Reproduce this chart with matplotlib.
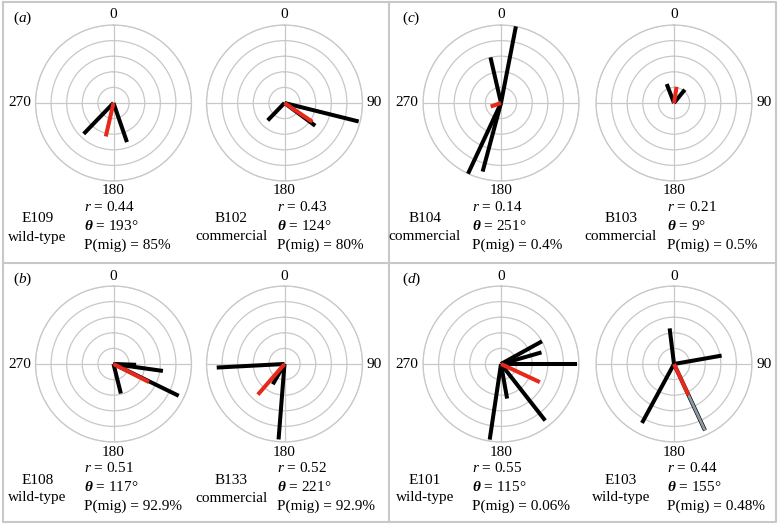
import numpy as np
import matplotlib

matplotlib.use("Agg")
from matplotlib import pyplot as plt

plt.rcParams['font.family'] = ['Liberation Serif', 'DejaVu Serif']
plt.rcParams['mathtext.fontset'] = 'custom'
plt.rcParams['mathtext.rm'] = 'Liberation Serif'
plt.rcParams['mathtext.it'] = 'Liberation Serif:italic'
plt.rcParams['mathtext.bf'] = 'Liberation Serif:italic:bold'

# order: top row left->right, then bottom row left->right
names = ['E109', 'B102', 'B104', 'B103', 'E108', 'B133', 'E101', 'E103']
types = ['wild-type', 'commercial', 'commercial', 'commercial',
         'wild-type', 'commercial', 'wild-type', 'wild-type']
mean_r = [0.44, 0.43, 0.14, 0.21, 0.51, 0.52, 0.55, 0.44]
mean_theta = [193, 124, 251, 9, 117, 221, 115, 155]
p_mig = ['85%', '80%', '0.4%', '0.5%', '92.9%', '92.9%', '0.06%', '0.48%']

track_theta = [
    [224, 161],
    [224, 104, 126.5],
    [11, 347, 205, 195],
    [339, 39],
    [92, 98, 116, 166],
    [267, 184.5, 210],
    [61, 74, 90, 142, 170, 188.5],
    [353, 80, 208.5, 155],
]
track_len = [
    [0.55, 0.53],
    [0.31, 0.98, 0.49],
    [1.0, 0.60, 1.0, 0.91],
    [0.26, 0.22],
    [0.29, 0.64, 0.93, 0.39],
    [0.87, 0.97, 0.30],
    [0.60, 0.54, 0.97, 0.92, 0.45, 0.98],
    [0.46, 0.62, 0.86, 0.94],
]
# track drawn grey beyond the mean vector (E103)
grey_track = [None, None, None, None, None, None, None, 3]

panel_labels = ['a', 'c', 'b', 'd']

W, H = 779, 526
R = 78
cxs = [113.5, 284.5, 501, 674]
cys = [103, 364]

grid_col = '#c8c8c8'
red = '#e6291a'
fs = 11

fig = plt.figure(figsize=(W / 100, H / 100), dpi=100)
bg = fig.add_axes([0, 0, 1, 1])
bg.set_xlim(0, W)
bg.set_ylim(H, 0)
bg.axis('off')

# panel borders
bg.plot([3, 776, 776, 3, 3], [2, 2, 522, 522, 2], color=grid_col, lw=1.5)
bg.plot([389, 389], [2, 522], color=grid_col, lw=1.5)
bg.plot([3, 776], [263, 263], color=grid_col, lw=1.5)

for k, lab in enumerate(panel_labels):
    px = 13 + 389 * (k % 2)
    py = 18 + 261 * (k // 2)
    bg.text(px, py, '(' + '$\\it{' + lab + '}$' + ')', fontsize=fs,
            ha='left', va='center')

for i in range(8):
    cx = cxs[i % 4]
    cy = cys[i // 4]
    left = (i % 2 == 0)

    ax = fig.add_axes([(cx - R) / W, 1 - (cy + R) / H, 2 * R / W, 2 * R / H],
                      projection='polar')
    ax.set_theta_zero_location('N')
    ax.set_theta_direction(-1)
    ax.set_ylim(0, 1)
    ax.set_rgrids([0.2, 0.4, 0.6, 0.8, 1.0], labels=[])
    ax.set_thetagrids([0, 90, 180, 270], labels=[])
    ax.grid(True, color=grid_col, lw=0.9)
    ax.spines['polar'].set_color(grid_col)
    ax.spines['polar'].set_linewidth(0.9)
    ax.tick_params(length=0)

    for th, ln in zip(track_theta[i], track_len[i]):
        t = np.deg2rad(th)
        ax.plot([t, t], [0, ln], color='black', lw=2.9,
                solid_capstyle='butt', clip_on=False, zorder=3)
    g = grey_track[i]
    if g is not None:
        t = np.deg2rad(track_theta[i][g])
        ax.plot([t, t], [mean_r[i], track_len[i][g]], color='#8d9aa5',
                lw=2.0, solid_capstyle='butt', clip_on=False, zorder=4)
    t = np.deg2rad(mean_theta[i])
    ax.plot([t, t], [0, mean_r[i]], color=red, lw=2.9,
            solid_capstyle='butt', clip_on=False, zorder=5)

    # compass labels
    bg.text(cx, cy - 88, '0', fontsize=fs, ha='center', va='center')
    bg.text(cx, cy + 88, '180', fontsize=fs, ha='center', va='center')
    if left:
        bg.text(cx - 94, cy, '270', fontsize=fs, ha='center', va='center')
    else:
        bg.text(cx + 90, cy, '90', fontsize=fs, ha='center', va='center')

    # stats
    sx = cx - 29 if left else cx - 7
    bg.text(sx, cy + 104, '$r$ = %.2f' % mean_r[i], fontsize=fs,
            ha='left', va='center')
    bg.text(sx, cy + 123, '$\\mathbf{\\theta}$ = %d°' % mean_theta[i],
            fontsize=fs, ha='left', va='center')
    bg.text(sx, cy + 142, 'P(mig) = ' + p_mig[i], fontsize=fs,
            ha='left', va='center')

    nx = cx - 76 if left else cx - 53
    bg.text(nx, cy + 116, names[i], fontsize=fs, ha='center', va='center')
    bg.text(nx, cy + 134, types[i], fontsize=fs, ha='center', va='center')

fig.savefig('out.png', dpi=100)
